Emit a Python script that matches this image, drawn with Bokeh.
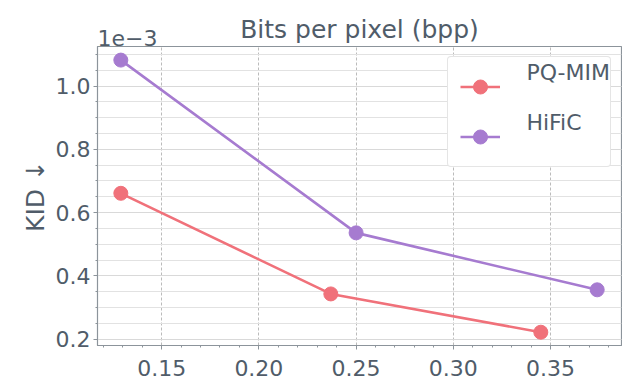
from bokeh.plotting import figure
from bokeh.models import (Range1d, FixedTicker, PrintfTickFormatter, Legend, LegendItem, Label)
from bokeh.embed import file_html
from bokeh.resources import INLINE

# Data (KID in units of 1e-3)
bpp_pqmim = [0.129, 0.237, 0.345]
kid_pqmim = [0.661, 0.343, 0.222]
bpp_hific = [0.129, 0.250, 0.374]
kid_hific = [1.082, 0.536, 0.356]

series_labels = ["PQ-MIM", "HiFiC"]

x_major = [0.15, 0.20, 0.25, 0.30, 0.35]
x_minor = [round(0.12 + 0.01 * i, 2) for i in range(27)]
y_major = [0.2, 0.4, 0.6, 0.8, 1.0]
y_minor = [round(0.2 + 0.05 * i, 2) for i in range(19)]

RED = "#F0717A"
PURPLE = "#A67BD0"
TEXT = "#505C69"
FRAME = "#8C949B"
FONT = "DejaVu Sans"

p = figure(width=622, height=390, output_backend="svg", toolbar_location=None,
           x_range=Range1d(0.117, 0.3865), y_range=Range1d(0.18, 1.125),
           min_border_left=97, min_border_right=1, min_border_top=46, min_border_bottom=45)

p.title.text = "Bits per pixel (bpp)"
p.title.align = "center"
p.title.text_font = FONT
p.title.text_font_size = "25px"
p.title.text_font_style = "normal"
p.title.text_color = TEXT
p.title.standoff = -26

p.outline_line_color = FRAME
p.outline_line_width = 1.2

p.xaxis.ticker = FixedTicker(ticks=x_major, minor_ticks=x_minor)
p.yaxis.ticker = FixedTicker(ticks=y_major, minor_ticks=y_minor)
p.xaxis.formatter = PrintfTickFormatter(format="%.2f")
p.yaxis.formatter = PrintfTickFormatter(format="%.1f")

for ax in (p.xaxis, p.yaxis):
    ax.axis_line_color = FRAME
    ax.major_tick_line_color = FRAME
    ax.minor_tick_line_color = FRAME
    ax.major_tick_in = 0
    ax.major_tick_out = 4
    ax.minor_tick_in = 0
    ax.minor_tick_out = 2
    ax.major_label_text_font = FONT
    ax.major_label_text_font_size = "22px"
    ax.major_label_text_color = TEXT
    ax.axis_label_text_font = FONT
    ax.axis_label_text_font_style = "normal"
    ax.axis_label_text_color = TEXT

p.xaxis.major_label_standoff = 10
p.yaxis.major_label_standoff = 3
p.yaxis.axis_label = "KID ↓"
p.yaxis.axis_label_text_font_size = "25px"
p.yaxis.axis_label_standoff = 3

p.xgrid.grid_line_color = "#BBBBBB"
p.xgrid.grid_line_dash = "3 2"
p.xgrid.grid_line_width = 1
p.ygrid.grid_line_color = "#D9D9D9"
p.ygrid.grid_line_width = 1.2
p.ygrid.minor_grid_line_color = "#E2E2E2"
p.ygrid.minor_grid_line_width = 1.2

l1 = p.line(bpp_pqmim, kid_pqmim, line_color=RED, line_width=2.6)
s1 = p.scatter(bpp_pqmim, kid_pqmim, size=14, fill_color=RED, line_color=RED)
l2 = p.line(bpp_hific, kid_hific, line_color=PURPLE, line_width=2.6)
s2 = p.scatter(bpp_hific, kid_hific, size=14, fill_color=PURPLE, line_color=PURPLE)

# Legend box with glyphs only (blank labels, fixed label area)
box_legend = Legend(items=[LegendItem(label=" ", renderers=[l1, s1]),
                           LegendItem(label=" ", renderers=[l2, s2])],
                    location="top_right")
box_legend.label_text_font = FONT
box_legend.label_text_font_size = "22px"
box_legend.label_text_color = TEXT
box_legend.glyph_width = 40
box_legend.glyph_height = 35
box_legend.label_height = 20
box_legend.label_width = 98
box_legend.spacing = 15
box_legend.padding = 12
box_legend.margin = 10
box_legend.label_standoff = 0
box_legend.border_line_color = "#CCCCCC"
box_legend.border_line_width = 1
box_legend.background_fill_alpha = 1.0
if "border_radius" in Legend.properties():
    box_legend.border_radius = 4
p.add_layout(box_legend)

# Legend labels, set slightly above their glyphs
text_legend = Legend(items=[LegendItem(label=series_labels[0], renderers=[l1, s1]),
                            LegendItem(label=series_labels[1], renderers=[l2, s2])],
                     location="top_right")
text_legend.label_text_font = FONT
text_legend.label_text_font_size = "22px"
text_legend.label_text_color = TEXT
text_legend.glyph_width = 0
text_legend.glyph_height = 1
text_legend.label_height = 30
text_legend.spacing = 20
text_legend.padding = 2
text_legend.margin = 11
text_legend.label_standoff = 0
text_legend.border_line_color = None
text_legend.background_fill_alpha = 0
p.add_layout(text_legend)

p.add_layout(Label(x=0.117, y=1.125, text="1e−3", text_font=FONT, text_font_size="22px",
                   text_color=TEXT, text_baseline="bottom", y_offset=1), "above")

open("out.html", "w").write(file_html(p, INLINE))
